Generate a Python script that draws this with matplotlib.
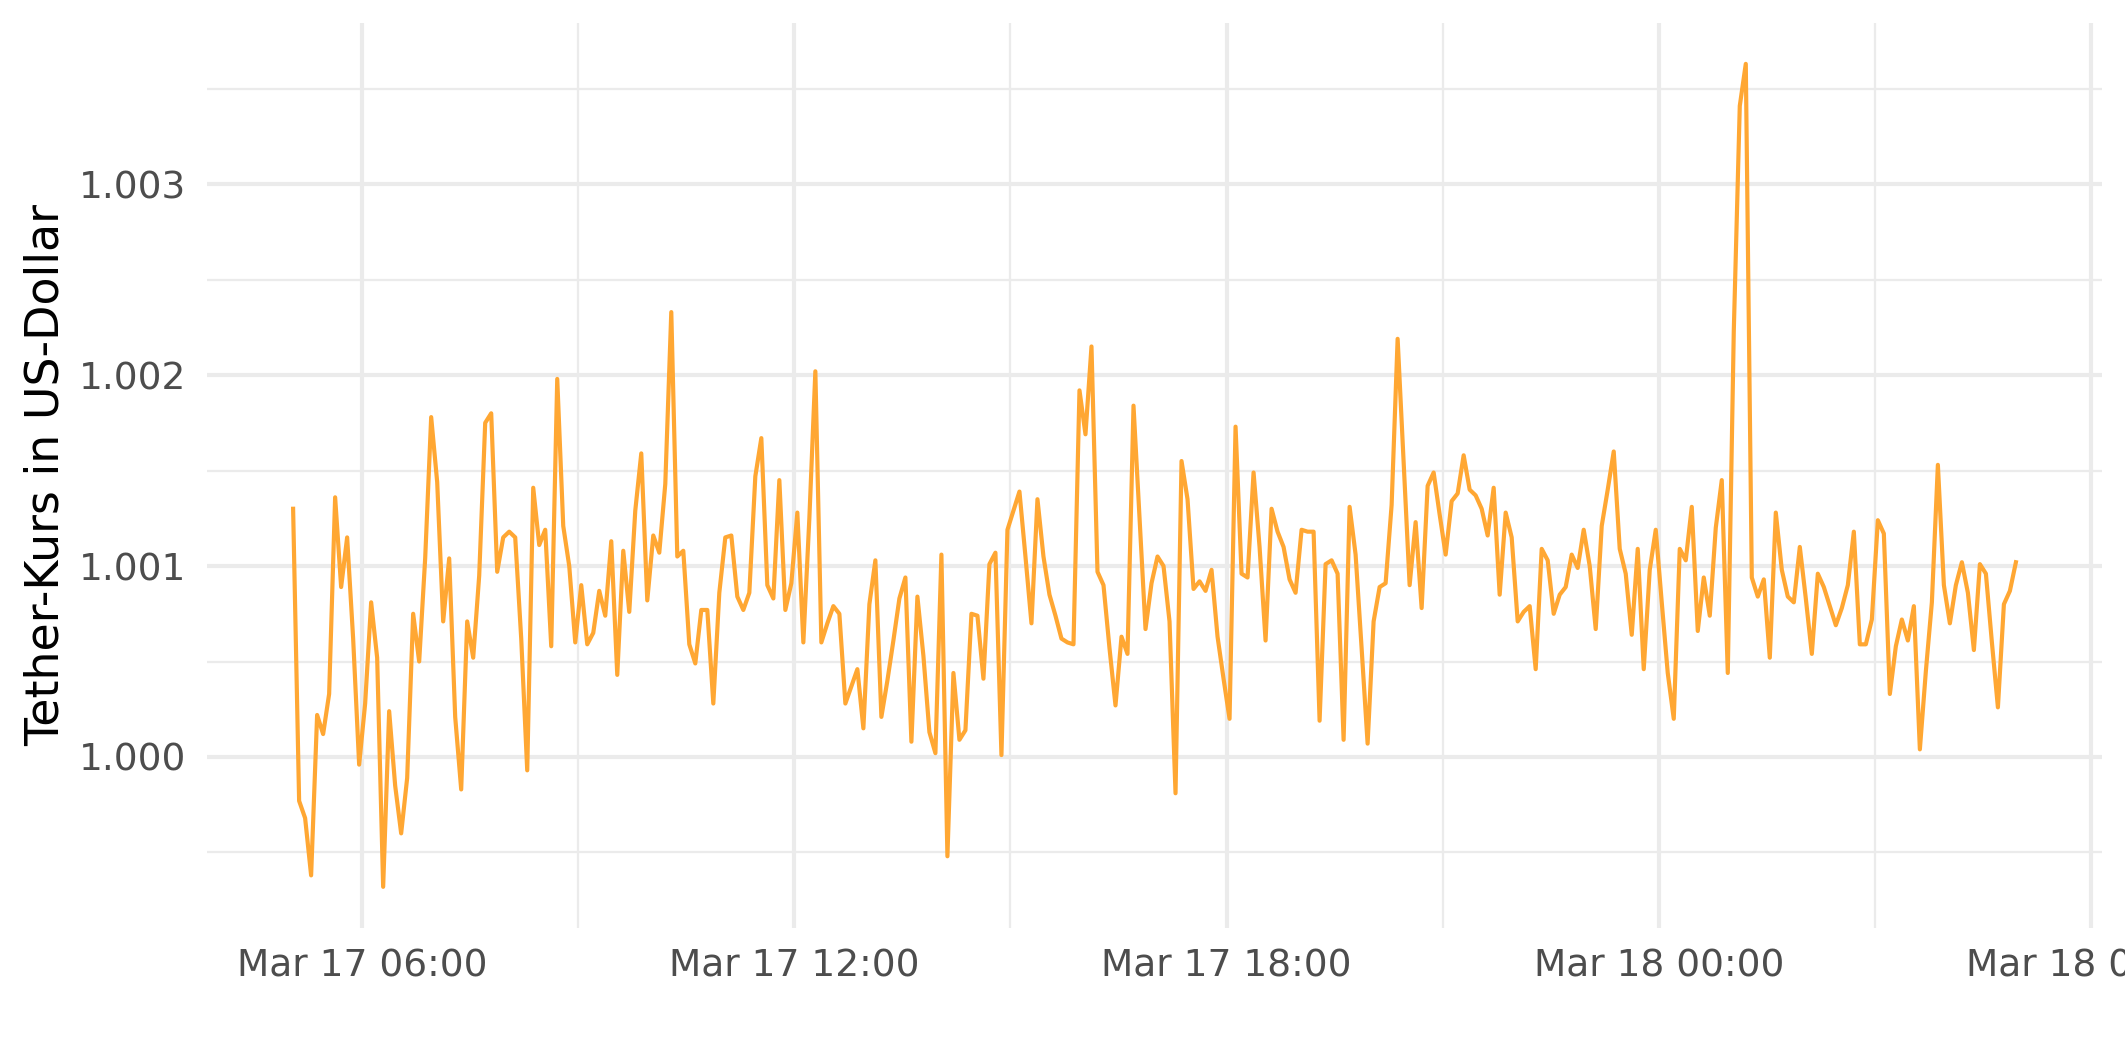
import matplotlib
matplotlib.use("Agg")
import matplotlib.pyplot as plt
import matplotlib.dates as mdates
from matplotlib.ticker import MultipleLocator, FormatStrFormatter
import pandas as pd

# 5-minute Tether (USDT) quotes, 24 hours
start_time = "2024-03-17 05:02:30"
interval = "5min"
price = [
    1.00130, 0.99977, 0.99968, 0.99938, 1.00022, 1.00012, 1.00033, 1.00136, 1.00089, 1.00115,
    1.00062, 0.99996, 1.00028, 1.00081, 1.00052, 0.99932, 1.00024, 0.99985, 0.99960, 0.99989,
    1.00075, 1.00050, 1.00104, 1.00178, 1.00144, 1.00071, 1.00104, 1.00021, 0.99983, 1.00071,
    1.00052, 1.00095, 1.00175, 1.00180, 1.00097, 1.00115, 1.00118, 1.00115, 1.00062, 0.99993,
    1.00141, 1.00111, 1.00119, 1.00058, 1.00198, 1.00121, 1.00100, 1.00060, 1.00090, 1.00059,
    1.00065, 1.00087, 1.00074, 1.00113, 1.00043, 1.00108, 1.00076, 1.00129, 1.00159, 1.00082,
    1.00116, 1.00107, 1.00143, 1.00233, 1.00105, 1.00108, 1.00059, 1.00049, 1.00077, 1.00077,
    1.00028, 1.00086, 1.00115, 1.00116, 1.00084, 1.00077, 1.00086, 1.00147, 1.00167, 1.00090,
    1.00083, 1.00145, 1.00077, 1.00091, 1.00128, 1.00060, 1.00125, 1.00202, 1.00060, 1.00070,
    1.00079, 1.00075, 1.00028, 1.00037, 1.00046, 1.00015, 1.00080, 1.00103, 1.00021, 1.00040,
    1.00061, 1.00083, 1.00094, 1.00008, 1.00084, 1.00053, 1.00013, 1.00002, 1.00106, 0.99948,
    1.00044, 1.00009, 1.00014, 1.00075, 1.00074, 1.00041, 1.00101, 1.00107, 1.00001, 1.00119,
    1.00129, 1.00139, 1.00105, 1.00070, 1.00135, 1.00105, 1.00085, 1.00074, 1.00062, 1.00060,
    1.00059, 1.00192, 1.00169, 1.00215, 1.00097, 1.00090, 1.00057, 1.00027, 1.00063, 1.00054,
    1.00184, 1.00125, 1.00067, 1.00091, 1.00105, 1.00100, 1.00071, 0.99981, 1.00155, 1.00135,
    1.00088, 1.00092, 1.00087, 1.00098, 1.00063, 1.00041, 1.00020, 1.00173, 1.00096, 1.00094,
    1.00149, 1.00110, 1.00061, 1.00130, 1.00118, 1.00110, 1.00093, 1.00086, 1.00119, 1.00118,
    1.00118, 1.00019, 1.00101, 1.00103, 1.00096, 1.00009, 1.00131, 1.00106, 1.00057, 1.00007,
    1.00071, 1.00089, 1.00091, 1.00132, 1.00219, 1.00155, 1.00090, 1.00123, 1.00078, 1.00142,
    1.00149, 1.00127, 1.00106, 1.00134, 1.00138, 1.00158, 1.00140, 1.00137, 1.00130, 1.00116,
    1.00141, 1.00085, 1.00128, 1.00115, 1.00071, 1.00076, 1.00079, 1.00046, 1.00109, 1.00103,
    1.00075, 1.00085, 1.00089, 1.00106, 1.00099, 1.00119, 1.00100, 1.00067, 1.00121, 1.00140,
    1.00160, 1.00109, 1.00096, 1.00064, 1.00109, 1.00046, 1.00098, 1.00119, 1.00081, 1.00044,
    1.00020, 1.00109, 1.00103, 1.00131, 1.00066, 1.00094, 1.00074, 1.00120, 1.00145, 1.00044,
    1.00223, 1.00341, 1.00363, 1.00094, 1.00084, 1.00093, 1.00052, 1.00128, 1.00098, 1.00084,
    1.00081, 1.00110, 1.00083, 1.00054, 1.00096, 1.00089, 1.00079, 1.00069, 1.00078, 1.00090,
    1.00118, 1.00059, 1.00059, 1.00072, 1.00124, 1.00117, 1.00033, 1.00058, 1.00072, 1.00061,
    1.00079, 1.00004, 1.00045, 1.00081, 1.00153, 1.00090, 1.00070, 1.00090, 1.00102, 1.00086,
    1.00056, 1.00101, 1.00096, 1.00060, 1.00026, 1.00080, 1.00087, 1.00102,
]
times = pd.date_range(start=start_time, periods=len(price), freq=interval)

y_title = "Tether-Kurs in US-Dollar"
line_color = "#FFA733"
grid_color = "#EBEBEB"
text_color = "#4D4D4D"

plt.rcParams["font.family"] = ["DejaVu Sans"]

fig = plt.figure(figsize=(2125 / 300, 1062 / 300), dpi=300)
ax = fig.add_axes([0.0974, 0.1262, 0.8918, 0.8524])

ax.plot(times, price, color=line_color, linewidth=1.0, solid_joinstyle="round")

ax.xaxis.set_major_locator(mdates.HourLocator(byhour=[0, 6, 12, 18]))
ax.xaxis.set_minor_locator(mdates.HourLocator(byhour=[3, 9, 15, 21]))
ax.xaxis.set_major_formatter(mdates.DateFormatter("%b %d %H:%M"))
ax.yaxis.set_major_locator(MultipleLocator(0.001))
ax.yaxis.set_minor_locator(MultipleLocator(0.0005))
ax.yaxis.set_major_formatter(FormatStrFormatter("%.3f"))

ax.grid(which="major", color=grid_color, linewidth=1.0)
ax.grid(which="minor", color=grid_color, linewidth=0.55)
ax.set_axisbelow(True)

for s in ax.spines.values():
    s.set_visible(False)
ax.tick_params(which="both", length=0)
ax.tick_params(axis="both", labelsize=9, labelcolor=text_color, pad=5)

ax.set_ylabel(y_title, fontsize=11, color="black")
ax.yaxis.set_label_coords(-0.073, 0.5)

fig.savefig("out.png", dpi=300)
